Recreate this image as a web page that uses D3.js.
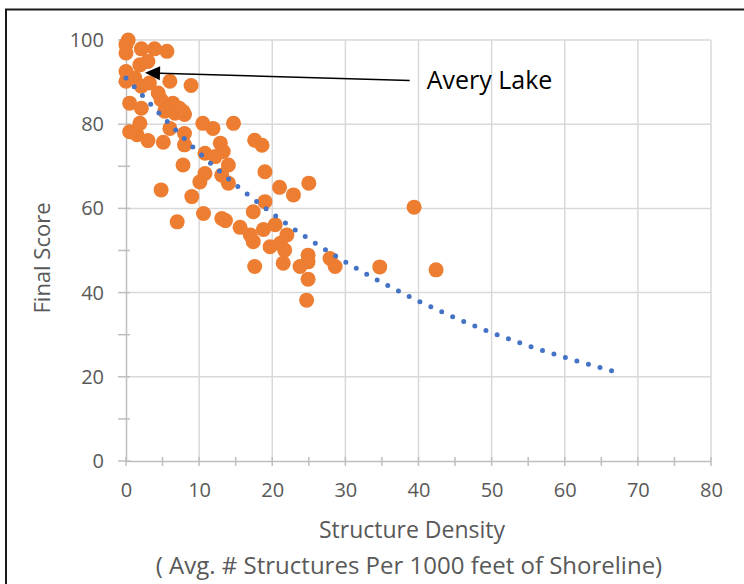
<!DOCTYPE html>
<html>
<head>
<meta charset="utf-8">
<script src="https://cdn.jsdelivr.net/npm/d3@7/dist/d3.min.js"></script>
<style>
  html, body { margin: 0; padding: 0; background: #fff; }
  svg { display: block; }
  text { font-family: "Open Sans", "Liberation Sans", sans-serif; }
</style>
</head>
<body>
<svg id="chart" width="744" height="584"></svg>
<script>
// ---- data ----
const densityX = [
  0.3, 0.0, 0.0, 2.1, 3.9, 5.6, 3.0, 1.9, 0.0, 0.0,
  1.2, 2.1, 3.2, 6.0, 8.9, 4.4, 0.5, 2.1, 4.8, 6.4,
  7.3, 8.0, 5.3, 6.7, 7.8, 0.5, 1.5, 1.9, 3.0, 5.1,
  6.0, 8.0, 8.0, 7.8, 10.5, 11.9, 14.7, 17.6, 18.6, 10.8,
  12.9, 13.3, 12.2, 14.0, 13.1, 10.8, 10.1, 14.0, 19.0, 21.0,
  22.9, 25.0, 19.0, 17.4, 10.6, 9.0, 4.8, 7.0, 13.1, 13.6,
  15.6, 18.8, 20.4, 17.0, 17.4, 22.0, 19.7, 21.1, 21.7, 21.5,
  17.6, 24.9, 24.9, 23.8, 24.9, 24.7, 27.9, 28.6, 34.7, 39.4,
  42.4
];
const finalScore = [
  100, 98.9, 96.9, 97.9, 97.9, 97.3, 94.9, 94.1, 92.5, 90.2,
  91.0, 89.0, 89.8, 90.2, 89.2, 87.4, 85.0, 83.8, 85.8, 85.0,
  83.8, 82.3, 83.1, 82.6, 83.0, 78.2, 77.5, 80.2, 76.1, 75.7,
  79.0, 77.8, 75.1, 70.3, 80.2, 79.0, 80.2, 76.2, 75.0, 73.1,
  75.5, 73.5, 72.3, 70.3, 67.9, 68.3, 66.3, 66.0, 68.7, 65.0,
  63.2, 66.0, 61.6, 59.2, 58.8, 62.8, 64.4, 56.8, 57.6, 57.1,
  55.5, 55.0, 56.1, 53.7, 52.1, 53.7, 50.9, 51.7, 50.1, 47.0,
  46.2, 48.9, 47.3, 46.2, 43.2, 38.2, 48.1, 46.2, 46.1, 60.3,
  45.4
];
// dotted trendline, read at these densities
const trendX = [0, 10, 20, 30, 40, 50, 60, 66.5];
const trendY = [91.0, 73.2, 58.8, 47.3, 38.0, 30.5, 24.6, 21.4];

const xTicks = [0, 10, 20, 30, 40, 50, 60, 70, 80];
const yTicks = [0, 20, 40, 60, 80, 100];
const xMinorTicks = [0, 5, 10, 15, 20, 25, 30, 35, 40, 45, 50, 55, 60, 65, 70, 75, 80];
const yMinorTicks = [0, 10, 20, 30, 40, 50, 60, 70, 80, 90, 100];

const annotationLabel = "Avery Lake";
const annotationTarget = [2.6, 92.2];
const annotationFrom = [38.8, 90.4];
const xTitle1 = "Structure Density";
const xTitle2 = "( Avg. # Structures Per 1000 feet of Shoreline)";
const yTitle = "Final Score";

// ---- drawing ----
const svg = d3.select("#chart");
const x = d3.scaleLinear().domain([0, 80]).range([126, 711]);
const y = d3.scaleLinear().domain([0, 100]).range([461, 40]);

const gridColor = "#d9d9d9";
const axisColor = "#bfbfbf";
const textColor = "#595959";

// outer chart border (left and top visible)
svg.append("path")
  .attr("d", "M6,590 L6,9.5 L750,9.5")
  .attr("fill", "none").attr("stroke", "#1a1a1a").attr("stroke-width", 2);

// gridlines
svg.append("g").selectAll("line").data(xTicks.slice(1)).join("line")
  .attr("x1", d => x(d)).attr("x2", d => x(d))
  .attr("y1", y(0)).attr("y2", y(100))
  .attr("stroke", gridColor).attr("stroke-width", 1.5);
svg.append("g").selectAll("line").data(yTicks.slice(1)).join("line")
  .attr("x1", x(0)).attr("x2", x(80))
  .attr("y1", d => y(d)).attr("y2", d => y(d))
  .attr("stroke", gridColor).attr("stroke-width", 1.5);

// axes with d3 axis generators (labels), plus cross tick marks
const xAxis = svg.append("g").attr("transform", `translate(0,${y(0)})`)
  .call(d3.axisBottom(x).tickValues(xTicks).tickSize(0).tickPadding(22));
xAxis.select(".domain").attr("stroke", axisColor).attr("stroke-width", 1.5);
xAxis.selectAll("text").attr("fill", textColor).attr("font-size", 20)
  .attr("font-family", "Open Sans");

const yAxis = svg.append("g").attr("transform", `translate(${x(0)},0)`)
  .call(d3.axisLeft(y).tickValues(yTicks).tickSize(0).tickPadding(22));
yAxis.select(".domain").attr("stroke", axisColor).attr("stroke-width", 1.5);
yAxis.selectAll("text").attr("fill", textColor).attr("font-size", 20)
  .attr("font-family", "Open Sans");

svg.append("g").selectAll("line").data(xMinorTicks).join("line")
  .attr("x1", d => x(d)).attr("x2", d => x(d))
  .attr("y1", y(0) - 4).attr("y2", y(0) + 5)
  .attr("stroke", axisColor).attr("stroke-width", 1.5);
svg.append("g").selectAll("line").data(yMinorTicks).join("line")
  .attr("x1", x(0) - 8).attr("x2", x(0) + 4)
  .attr("y1", d => y(d)).attr("y2", d => y(d))
  .attr("stroke", axisColor).attr("stroke-width", 1.5);

// points
const pts = densityX.map((d, i) => ({ x: d, y: finalScore[i] }));
svg.append("g").selectAll("circle").data(pts).join("circle")
  .attr("cx", d => x(d.x)).attr("cy", d => y(d.y)).attr("r", 7.5)
  .attr("fill", "#ED7D31");

// trendline (dotted)
const trend = trendX.map((d, i) => [d, trendY[i]]);
svg.append("path").datum(trend)
  .attr("d", d3.line().x(d => x(d[0])).y(d => y(d[1])).curve(d3.curveMonotoneX))
  .attr("fill", "none").attr("stroke", "#4472C4").attr("stroke-width", 5)
  .attr("stroke-linecap", "round").attr("stroke-dasharray", "0 12");

// annotation arrow
const tx = x(annotationTarget[0]), ty = y(annotationTarget[1]);
const fx = x(annotationFrom[0]), fy = y(annotationFrom[1]);
const ang = Math.atan2(ty - fy, tx - fx);
const headLen = 15, headW = 7;
const bx = tx - headLen * Math.cos(ang), by = ty - headLen * Math.sin(ang);
svg.append("line").attr("x1", fx).attr("y1", fy).attr("x2", bx).attr("y2", by)
  .attr("stroke", "#000").attr("stroke-width", 1.5);
svg.append("path")
  .attr("d", `M${tx},${ty} L${bx - headW * Math.sin(ang)},${by + headW * Math.cos(ang)} L${bx + headW * Math.sin(ang)},${by - headW * Math.cos(ang)} Z`)
  .attr("fill", "#000");
svg.append("text").attr("x", fx + 17).attr("y", fy).attr("dy", "0.35em")
  .attr("font-size", 25).attr("fill", "#000").text(annotationLabel);

// axis titles
svg.append("text").attr("x", 412).attr("y", 538).attr("text-anchor", "middle")
  .attr("font-size", 23).attr("fill", textColor).text(xTitle1);
svg.append("text").attr("x", 409).attr("y", 574).attr("text-anchor", "middle")
  .attr("font-size", 24).attr("fill", textColor).text(xTitle2);
svg.append("text").attr("transform", "translate(50,258) rotate(-90)")
  .attr("text-anchor", "middle").attr("font-size", 22).attr("fill", textColor).text(yTitle);
</script>
</body>
</html>
